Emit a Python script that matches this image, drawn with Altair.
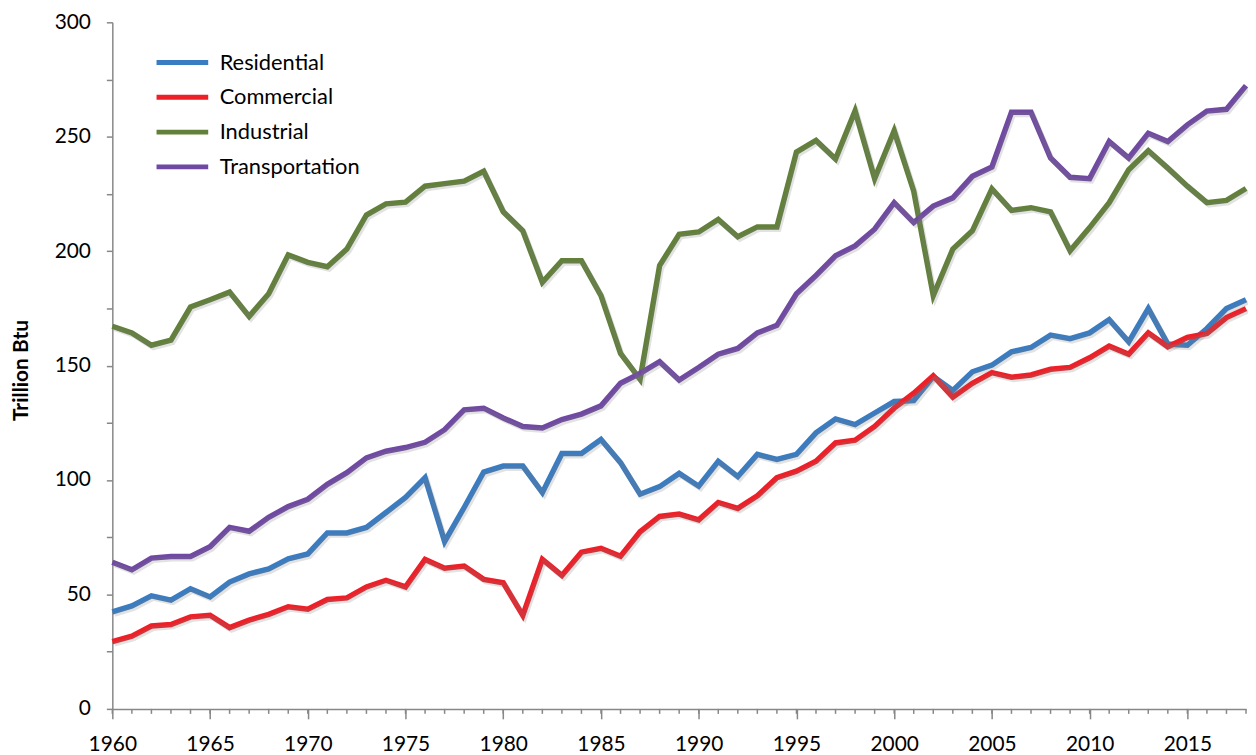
import altair as alt
import pandas as pd

years = list(range(1960, 2019))

residential = [42.4, 45.0, 49.4, 47.5, 52.5, 48.9, 55.4, 59.0, 61.2, 65.6,
               67.7, 76.9, 76.9, 79.3, 85.8, 92.4, 101.0, 73.1, 88.0, 103.5,
               106.1, 106.1, 94.5, 111.6, 111.6, 117.7, 107.6, 93.8, 97.1, 102.9,
               97.3, 108.2, 101.5, 111.2, 109.0, 111.2, 120.6, 126.7, 124.2, 129.3,
               134.3, 134.7, 145.2, 139.1, 147.3, 150.2, 156.0, 157.9, 163.3, 161.8,
               164.3, 170.1, 160.4, 174.9, 159.4, 158.9, 166.2, 174.9, 178.8]
commercial = [29.4, 31.8, 36.2, 36.9, 40.2, 40.9, 35.5, 38.8, 41.3, 44.6,
              43.6, 47.8, 48.5, 53.3, 56.2, 53.3, 65.3, 61.5, 62.4, 56.6,
              55.1, 40.9, 65.3, 58.3, 68.5, 70.2, 66.7, 77.4, 84.1, 85.1,
              82.6, 90.2, 87.6, 93.1, 101.0, 103.9, 108.2, 116.2, 117.4, 123.4,
              131.4, 137.9, 145.5, 136.2, 142.3, 146.9, 144.9, 145.9, 148.4, 149.2,
              153.4, 158.5, 155.0, 164.3, 158.2, 162.3, 164.0, 171.0, 174.9]
industrial = [167.2, 164.3, 158.9, 161.1, 175.6, 178.8, 182.1, 171.5, 181.4, 198.4,
              195.1, 193.2, 200.9, 215.8, 220.7, 221.4, 228.4, 229.5, 230.6, 234.9,
              217.2, 208.9, 186.4, 195.8, 195.8, 180.6, 155.3, 144.0, 193.7, 207.4,
              208.4, 213.9, 206.3, 210.6, 210.6, 243.3, 248.4, 240.3, 261.3, 231.7,
              252.6, 226.2, 180.6, 200.9, 208.9, 227.2, 217.8, 219.0, 217.2, 200.2,
              210.3, 221.2, 235.6, 243.9, 236.3, 228.4, 221.2, 222.2, 227.4]
transportation = [64.1, 60.8, 65.9, 66.6, 66.6, 70.9, 79.3, 77.6, 83.7, 88.4,
                  91.6, 98.1, 103.2, 109.7, 112.6, 114.2, 116.5, 122.0, 130.7, 131.4,
                  127.1, 123.4, 122.7, 126.4, 128.8, 132.4, 142.3, 146.6, 151.7, 143.7,
                  149.2, 155.0, 157.5, 164.3, 167.6, 181.4, 189.4, 198.0, 202.3, 209.6,
                  221.2, 212.5, 219.7, 223.3, 232.7, 236.8, 260.7, 260.7, 240.7, 232.3,
                  231.7, 247.9, 240.7, 251.5, 247.9, 255.2, 261.2, 262.0, 272.3]

series_names = ["Residential", "Commercial", "Industrial", "Transportation"]
series_colors = ["#3A7CC2", "#EF1F28", "#62803A", "#7049A3"]
x_label_years = list(range(1960, 2016, 5))
y_tick_values = list(range(0, 301, 25))

rows = []
for name, vals in zip(series_names, [residential, commercial, industrial, transportation]):
    for yr, v in zip(years, vals):
        rows.append({"year": yr, "value": v, "series": name})
df = pd.DataFrame(rows)
ticks_df = pd.DataFrame({"year": years})

W, H = 1141, 691
FONT = "Lato"
AX = "#878787"

x_scale = alt.Scale(domain=[1960, 2018], nice=False, zero=False)
y_scale = alt.Scale(domain=[0, 300], nice=False)

x_axis = alt.Axis(values=x_label_years, format="d", title=None, grid=False,
                  tickSize=10, labelFontSize=21, labelPadding=15,
                  labelColor="#000000", labelFont=FONT, domainColor=AX,
                  tickColor=AX, domainWidth=1.5, tickWidth=1.5, labelFlush=False)
y_axis = alt.Axis(values=y_tick_values, grid=False, tickSize=6,
                  labelExpr="datum.value % 50 == 0 ? datum.label : ''",
                  labelFontSize=21, labelPadding=16, labelColor="#000000",
                  labelFont=FONT, domainColor=AX, tickColor=AX,
                  domainWidth=1.5, tickWidth=1.5,
                  title="Trillion Btu", titleFont=FONT, titleFontSize=21,
                  titleFontWeight="bold", titleColor="#000000",
                  titleAngle=-90, titleX=-91, titleY=350,
                  titleAlign="center", titleBaseline="middle")

X = alt.X("year:Q", scale=x_scale, axis=x_axis, title=None)
Y = alt.Y("value:Q", scale=y_scale, axis=y_axis, title="Trillion Btu")

shadow = alt.Chart(df).mark_line(strokeWidth=5, color="#7a7a7a", opacity=0.22,
                                 xOffset=2, yOffset=2.5, strokeJoin="miter").encode(
    x=X, y=Y, detail="series:N",
)

lines = alt.Chart(df).mark_line(strokeWidth=5.5, strokeJoin="miter").encode(
    x=X, y=Y,
    color=alt.Color("series:N",
                    scale=alt.Scale(domain=series_names, range=series_colors),
                    legend=alt.Legend(title=None, orient="none", legendX=55, legendY=25,
                                      symbolType="M-2,0L2,0", symbolStrokeWidth=5,
                                      symbolSize=676, rowPadding=8,
                                      labelFontSize=22, labelFont=FONT,
                                      labelColor="#000000", labelOffset=22)),
)

minor = alt.Chart(ticks_df).mark_rule(color=AX, strokeWidth=1.5).encode(
    x=X,
    y=alt.value(H),
    y2=alt.value(H + 5),
)

chart = alt.layer(lines, shadow, minor).properties(
    width=W, height=H,
    autosize=alt.AutoSizeParams(type="none"),
    padding={"left": 105, "top": 12, "right": 2, "bottom": 44},
).configure(background="white").configure_view(stroke=None)

chart.save("out.html", embed_options={"renderer": "svg", "actions": False})
